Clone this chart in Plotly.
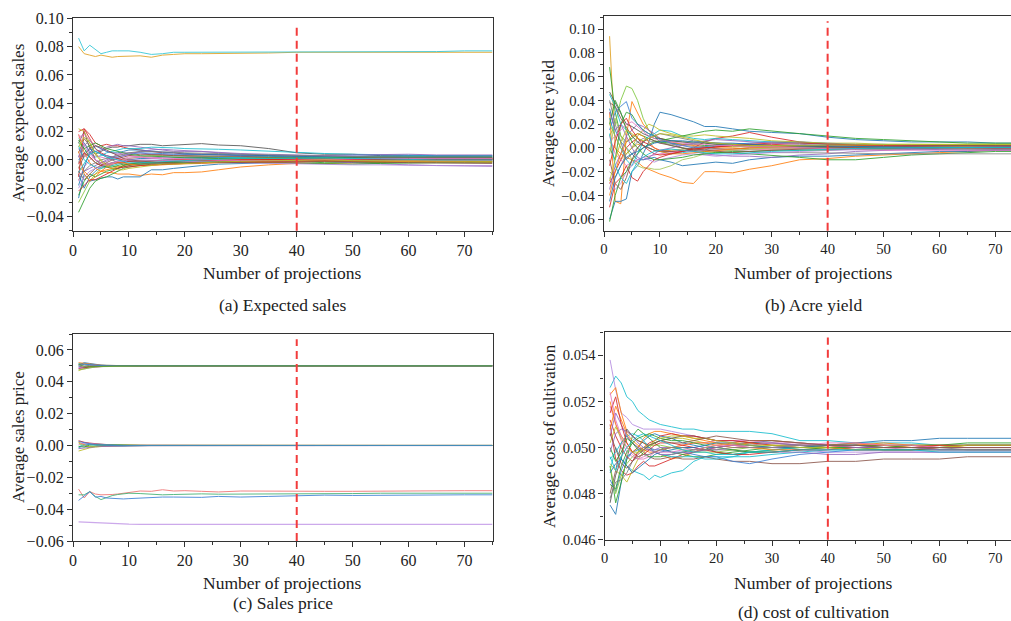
import plotly.graph_objects as go

# ---------------- data (sampled numbers of projections) ----------------
proj_x = [1, 2, 3, 4, 5, 6, 7, 8, 9, 10, 12, 14, 16, 18, 20, 23, 26, 30, 35, 40, 45, 50, 55, 60, 65, 70, 75]
SCALE = 0.001  # all series below are given in thousandths

# (a) Expected sales
a_top_cyan = [86, 77, 81, 78, 75, 76, 77, 77, 77, 77, 76, 74.5, 75, 76, 76, 76, 76, 76, 76, 76, 76, 76, 76, 76.5, 76.5, 77, 77]
a_top_gold = [80, 75, 74, 73, 74, 73, 72.5, 73, 73, 73.5, 73.5, 72.5, 74, 74.5, 75, 75, 75, 75, 75.5, 76, 76, 76, 76, 76, 76, 76, 76]
a_cluster = [
    [12, 20, 8, 4, 6, 8, 9, 9, 10, 10, 11, 11, 10, 10.5, 11, 11.5, 10.5, 10, 8, 5, 4, 4, 3, 3, 2.5, 3, 3],
    [-5, -8, -12, -10, -8, -9, -9, -10, -10, -10, -11, -10, -10.5, -9, -9, -8.5, -7, -5, -3.5, -2.5, -2.5, -2, -2, -1.5, -1.5, -1, -1],
    [-27, -10, -15, -14, -13, -12, -12, -13.5, -12, -12, -12, -7, -7, -6, -5, -4, -3, -2.5, -2, -1.5, -1, -1, -0.5, -0.5, 0, 0, 0],
    [-37, -28, -20, -15, -13, -12, -10, -8, -6, -5, -4, -3, -3, -2, -2, -1.5, -1.5, -1, -1, -1, -2, -2, -1.5, -1.5, -1, -1, -1],
    [20, 22, 18, 12, 10, 11, 10, 10, 9, 8, 7, 6, 5, 5, 4, 4, 3.5, 3, 3, 2.5, 2, 2, 2, 1.5, 1.5, 1.5, 1.5],
    [8, 2, 5, 6, 7, 9, 10, 11, 10, 10, 9, 8, 7, 6, 6, 6, 5, 4, 3, 1, -1, -2, -3, -3.5, -4, -4, -4.5],
    [22, 20, 12, 5, 0, -3, -4, -5, -5, -4, -3, -2, -2, -1, -1, -0.5, 0, 0, 0.5, 0.5, 0.5, 1, 1, 1, 1, 1, 1],
    [15, 12, 5, 2, 3, 5, 6, 7, 8, 8, 8, 9, 9, 8.5, 8, 8, 7.5, 7, 6, 5, 4.5, 4, 3.5, 3, 3, 3, 3],
    [-15, -5, 0, 3, 2, 1, 0, 0, 1, 2, 2.5, 3, 3, 3, 2.5, 2, 2, 2, 1.5, 1.5, 1, 1, 1, 0.5, 0.5, 0.5, 0.5],
    [5, 15, 10, 0, -3, -5, -6, -6, -5, -4, -3, -2, -2, -1.5, -1, -1, -0.5, -0.5, 0, 0, 0.5, 0.5, 0.5, 0.5, 0.5, 0.5, 0.5],
    [-10, -20, -12, -8, -5, -4, -3, -2, -1, 0, 1, 1, 2, 2, 2, 2, 2, 1.5, 1.5, 1, 1, 1.5, 1.5, 1.5, 1.5, 1.5, 1.5],
    [18, 5, -2, -6, -8, -7, -6, -5, -4, -3, -2, -1, 0, 0, 0.5, 1, 1, 1, 1, 0.5, 0.5, 0, 0, 0, 0, 0, 0],
    [-25, -15, -10, -12, -10, -8, -7, -6, -4, -3, -3, -2.5, -2, -2, -2, -1.5, -1, -1, -1, -0.5, -0.5, -0.5, -0.5, -0.5, 0, 0, 0],
    [-12, 22, 15, 8, 5, 3, 2, 1, 0, -1, -2, -2, -1.5, -1, -1, -1, -0.5, 0, 0, 0, 0.5, 0.5, 1, 1, 1, 1, 1],
    [3, -8, -6, -4, -2, 0, 2, 4, 5, 5, 5, 4, 4, 3.5, 3, 2.5, 2, 2, 1.5, 1, 0.5, 0, -0.5, -1, -1, -1.5, -1.5],
    [-2, 10, 14, 8, 4, 2, 0, -2, -3, -3, -3, -3, -2.5, -2.5, -2, -2, -1.5, -1, -1, -0.5, -0.5, 0, 0, 0, 0, 0, 0],
    [-30, -22, -15, -10, -6, -4, -2, -1, 0, 1, 2, 3, 3, 3, 3, 2.5, 2.5, 2, 2, 1.5, 1.5, 1, 1, 1, 1, 1, 1],
    [10, 0, -3, -5, -6, -5, -4, -3, -2, -1, -1, -0.5, 0, 0.5, 1, 1, 1.5, 2, 2.5, 2, 2, 2, 2, 2, 2, 2.5, 2.5],
    [16, 18, 14, 10, 8, 6, 5, 4, 4, 3, 2, 1, 1, 0.5, 0, 0, -0.5, -1, -1, -1, -1, -1, -0.5, -0.5, -0.5, -0.5, -0.5],
    [-8, -14, -10, -6, -4, -2, 0, 1, 2, 3, 4, 4, 3.5, 3, 3, 3, 2.5, 2.5, 2, 2, 2, 2, 2, 1.5, 1.5, 1.5, 1.5],
    [0, 5, 8, 6, 4, 3, 2, 2, 3, 4, 5, 5, 4.5, 4, 4, 4, 3.5, 3, 3, 3, 3, 3, 2.5, 2.5, 2.5, 2.5, 2.5],
    [12, 8, 2, -2, -4, -5, -5, -4, -3, -3, -2, -2, -1.5, -1.5, -1, -1, -1, -1.5, -2, -2.5, -3, -3, -2.5, -2, -2, -2, -2],
    [-3, 5, 2, -2, -4, -3, -2, -2, -2, -1, -1, -0.5, -0.5, 0, 0, 0, 0, 0, 0, 0.5, 0.5, 0.5, 0.5, 0.5, 0.5, 0.5, 0.5],
    [-20, -12, -8, -6, -5, -3, -2, -1, -1, 0, 0, 0, 0, -0.5, -1, -1, -1.5, -2, -2.5, -3, -3, -3.5, -3.5, -4, -4, -4, -4],
    [-18, -5, 5, 10, 8, 6, 5, 5, 6, 7, 7, 6, 5.5, 5, 4.5, 4, 4, 3.5, 3, 2.5, 2, 1.5, 1, 1, 0.5, 0.5, 0.5],
    [6, -10, -15, -12, -8, -5, -3, -2, -2, -3, -4, -4, -3.5, -3, -3, -2.5, -2, -2, -1.5, -1.5, -1, -1, -1, -1, -1.5, -1.5, -1.5],
    [14, 8, 10, 12, 10, 8, 7, 6, 5, 4, 3, 2.5, 2, 2, 1.5, 1.5, 1, 1, 1, 1, 1.5, 2, 2, 2.5, 2.5, 2, 2],
    [-22, -18, -14, -14, -12, -10, -8, -6, -5, -5, -4, -3.5, -3, -3, -2.5, -2, -2, -1.5, -1, -0.5, 0, 0, 0.5, 0.5, 0.5, 0.5, 0.5],
    [2, 12, 6, 0, -2, -1, 1, 2, 3, 4, 6, 7, 7.5, 7, 6.5, 6, 5, 4.5, 4, 3.5, 3, 3.5, 4, 4, 3.5, 3.5, 3.5],
    [-6, 3, 8, 10, 9, 7, 5, 3, 1, 0, -1, -1.5, -2, -2.5, -2.5, -2, -2, -2, -1.5, -1.5, -1, -1, -1.5, -2, -2, -2.5, -2.5],
    [18, 10, 4, 0, -2, -4, -3, -1, 0, 1, 2, 2, 1.5, 1, 1, 0.5, 0, -0.5, -0.5, 0, 0, 0.5, 1, 1, 1, 1, 1],
    [-14, -8, -4, -2, 0, 1, 2, 3, 4, 5, 6, 6, 6, 5.5, 5, 5, 4.5, 4, 3.5, 3, 2.5, 2, 2, 2, 2, 2, 2],
    [9, 16, 12, 4, -1, -4, -6, -7, -7, -6, -5, -4, -3, -3, -2.5, -2, -1.5, -1, -0.5, 0, 0, -0.5, -0.5, -1, -1, -1, -1],
    [-9, -2, 4, 6, 4, 2, 1, 0, -1, -2, -2, -1.5, -1, -0.5, -0.5, 0, 0.5, 1, 1, 1.5, 1.5, 1, 0.5, 0, 0, 0, 0],
]
a_colors = ["#555555", "#ff7f0e", "#1f77b4", "#2ca02c", "#d62728", "#9467bd", "#bcbd22", "#17becf",
            "#e377c2", "#8c564b", "#1f77b4", "#ff7f0e", "#2ca02c", "#d62728", "#9467bd", "#7f7f7f",
            "#8cc63f", "#17becf", "#e377c2", "#8c564b", "#3a7fd5", "#2ca02c", "#d62728", "#b48ae0",
            "#1f77b4", "#ff7f0e", "#2ca02c", "#d62728", "#9467bd", "#8c564b", "#e377c2", "#7f7f7f",
            "#bcbd22", "#17becf"]

# (b) Acre yield
b_lines = [
    [94, 0, -10, -5, 0, 3, 2, 0, -2, -3, -2, -1, 0, 0, 1, 1, 1, 0.5, 0.5, 0.5, 0, 0, 0, 0, 0, 0, 0],
    [68, 30, 10, 5, 8, 12, 10, 8, 6, 5, 4, 3, 3, 2, 2, 2, 1.5, 1, 1, 1, 1, 1.5, 1.5, 1.5, 1.5, 1.5, 1.5],
    [10, 20, 40, 52, 50, 40, 25, 15, 10, 8, 6, 5, 5, 4, 3, 3, 2, 2, 2, 2, 2, 2, 2, 2.5, 2.5, 3, 3],
    [30, -45, -47, 10, 39, 30, 20, 15, 10, 8, 5, 3, 2, 1, 0, 0, -1, -1, -1, -0.5, 0, 0, 0, 0.5, 0.5, 0.5, 0.5],
    [-60, -45, -45, -43, -20, -15, -5, 5, 20, 30, 28, 25, 22, 18, 18, 16, 14, 13, 12, 9, 7, 6, 5, 5, 5, 4, 4],
    [5, 0, -5, -8, -10, -12, -16, -18, -20, -22, -25, -29, -30, -20, -20, -21, -18, -15, -10, -9, -7, -6, -5, -4, -3, -2, -2],
    [33, 15, 5, 0, -5, -10, -10, -9, -8, -10, -12, -15, -14, -13, -12, -13, -10, -8, -7, -7, -6, -5, -4, -3, -3, -2, -2],
    [45, 35, 20, 15, 10, 5, 2, 0, -2, -3, -5, -4, -3, -2, 2, 3, 3, 2, 1, 1, 0.5, 1, 1, 1.5, 2, 2, 2],
    [-30, -20, -10, 0, 5, 8, 5, 3, 0, -2, -3, -3, 0, 5, 8, 10, 13, 9, 5, 3, 2, 1, 1, 0.5, 0.5, 0, 0],
    [-35, -15, -5, 10, 15, 20, 18, 15, 12, 8, 4, 0, -3, -5, -6, -7, -7, -8, -6, -5, -3, -2, -1, 0, 0.5, 1, 1],
    [47, 38, 30, 20, 18, 15, 12, 10, 8, 8, 6, 5, 4, 4, 3, 3, 2, 2, 1, 1, 0.5, 0, 0, -0.5, -0.5, -1, -1],
    [0, -10, 20, 30, 28, 20, 15, 12, 10, 5, 2, 0, -2, -3, -4, -4, -5, -6, -8, -10, -10, -8, -6, -5, -4, -3, -3],
    [-20, -25, -15, -5, 0, 5, 8, 6, 5, 4, 3, 2, 1, 0, -1, -2, -3, -4, -4, -4, -4.5, -5, -5, -5, -5, -5, -5],
    [38, 35, 25, 18, 10, 5, 2, 0, -2, -3, -3, -2, -2, -1, -1, -1, 0, 0, 0, 0, 0, 0, 0, 0, 0, 0, 0],
    [10, -5, -10, -15, -12, -10, -8, -7, -6, -5, -4, -3, -3, -2, -2, -2, -1.5, -1, -1, -1, -1, -0.5, -0.5, 0, 0, 0, 0],
    [-5, 25, 10, 0, -10, -15, -17, -17, -18, -18, -15, -10, -8, -5, -3, -2, -1, 0, 0, 0.5, 1, 1, 1, 1, 1, 1, 1],
    [25, 10, 0, -10, -15, -5, 5, 10, 12, 15, 14, 10, 8, 7, 8, 7, 6, 5, 4, 3, 3, 2.5, 2.5, 2, 2, 2, 2],
    [-50, -30, -25, -15, -25, -28, -20, -15, -10, -8, -5, -3, -1, 0, 1, 2, 3, 3, 2, 2, 1.5, 1, 0.5, 0, -0.5, -0.5, -0.5],
    [15, 30, 35, 39, 25, 20, 15, 12, 10, 7, 4, 2, 0, 1, 2, 3, 4, 5, 5, 4, 3, 3, 2, 2, 1.5, 1, 1],
    [-25, -35, -30, -20, -15, -10, -8, -10, -12, -10, -8, -6, -5, -6, -7, -6, -5, -4, -3, -2, -1.5, -1, -1, -0.5, -0.5, 0, 0],
    [20, 10, 0, -5, 0, 10, 15, 20, 18, 15, 12, 10, 10, 11, 10, 9, 8, 6, 5, 4, 4, 3, 3, 3, 2.5, 2.5, 2.5],
    [-62, -40, -25, -20, -10, -5, 0, 3, 5, 6, 8, 10, 12, 14, 15, 14, 16, 14, 12, 10, 8, 7, 6, 5, 4, 4, 4],
    [40, 20, 5, -10, -5, 0, 5, 8, 10, 12, 10, 8, 6, 5, 4, 3, 2, 2, 1, 0, 0, -1, -1, -1, -1, -1.5, -1.5],
    [-40, -20, -5, 5, 10, 12, 10, 5, 0, -3, -5, -5, -4, -3, -2, -1, 0, 1, 2, 2, 1.5, 1, 1, 0.5, 0, 0, 0],
    [20, 40, 30, 15, 5, 0, -5, -8, -10, -10, -9, -8, -6, -5, -4, -3, -3, -2, -2, -1.5, -1, -1, -0.5, 0, 0, 0.5, 0.5],
    [-15, 5, 20, 25, 15, 8, 2, -2, -5, -6, -5, -3, -1, 0, 1, 2, 3, 4, 4, 3, 2.5, 2, 2, 1.5, 1.5, 1.5, 1.5],
    [30, 15, 20, 10, 0, -8, -10, -8, -5, -2, 0, 2, 4, 6, 7, 6, 5, 4, 3, 2, 1, 0, -1, -1.5, -2, -2, -2],
    [-10, -30, -35, -25, -10, 0, 5, 8, 6, 4, 2, 0, -1, -2, -3, -4, -3, -2, -1, 0, 0.5, 1, 1.5, 2, 2, 2, 2],
    [5, 10, 15, 20, 22, 18, 14, 10, 8, 6, 5, 4, 3, 3, 2, 2, 1, 1, 0, -1, -1.5, -2, -2, -2, -2, -2, -2],
    [-45, -25, -15, -8, -5, -3, 0, 2, 4, 5, 6, 6, 5, 5, 4, 4, 3, 2, 2, 1.5, 1, 1, 0.5, 0.5, 0, 0, 0],
    [12, -15, -25, -30, -20, -12, -8, -5, -3, -2, -1, -2, -3, -4, -5, -5, -4, -3, -2, -1, -0.5, 0, 0, 0.5, 0.5, 0.5, 0.5],
    [-28, -10, 5, 15, 12, 8, 6, 8, 10, 12, 11, 9, 7, 5, 4, 3, 2, 2, 2, 2, 2.5, 3, 3, 3, 3, 3, 3],
]
b_colors = ["#e0a020", "#2ca02c", "#7cc83c", "#ff7f0e", "#1f77b4", "#ff7f0e", "#1f77b4", "#17becf",
            "#d62728", "#9467bd", "#555555", "#2ca02c", "#8a8a8a", "#8c564b", "#e377c2", "#a5c85a",
            "#17becf", "#d62728", "#3a7fd5", "#b48ae0", "#bcbd22", "#2ca02c",
            "#7f7f7f", "#ff7f0e", "#2ca02c", "#d62728", "#9467bd", "#8c564b", "#e377c2", "#1f77b4",
            "#17becf", "#bcbd22"]

# (c) Sales price
c_upper = [
    [47.0, 48.5, 49.5, 50.0, 50.0, 49.9, 49.9, 50.0, 50.0, 50.0, 50.0, 50.0, 50.0, 50.0, 50.0, 50.0, 50.0, 50.0, 50.0, 50.0, 50.0, 50.0, 50.0, 50.0, 50.0, 50.0, 50.0],
    [51.5, 51.0, 50.6, 50.4, 50.3, 50.2, 50.2, 50.1, 50.1, 50.1, 50.1, 50.0, 50.0, 50.0, 50.0, 50.0, 50.0, 50.0, 50.0, 50.0, 50.0, 50.0, 50.0, 50.0, 50.0, 50.0, 50.0],
    [48.2, 49.0, 49.4, 49.6, 49.7, 49.8, 49.8, 49.9, 49.9, 49.9, 49.9, 50.0, 50.0, 50.0, 50.0, 50.0, 50.0, 50.0, 50.0, 50.0, 50.0, 50.0, 50.0, 50.0, 50.0, 50.0, 50.0],
    [50.5, 52.0, 51.5, 50.8, 50.5, 50.3, 50.2, 50.1, 50.1, 50.0, 50.0, 50.0, 50.0, 50.0, 50.0, 50.0, 50.0, 50.0, 50.0, 50.0, 50.0, 50.0, 50.0, 50.0, 50.0, 50.0, 50.0],
    [49.0, 48.0, 48.8, 49.3, 49.5, 49.7, 49.8, 49.8, 49.9, 49.9, 50.0, 50.0, 50.0, 50.0, 50.0, 50.0, 50.0, 50.0, 50.0, 50.0, 50.0, 50.0, 50.0, 50.0, 50.0, 50.0, 50.0],
    [52.0, 51.5, 51.0, 50.6, 50.4, 50.3, 50.2, 50.2, 50.1, 50.1, 50.0, 50.0, 50.0, 50.0, 50.0, 50.0, 50.0, 50.0, 50.0, 50.0, 50.0, 50.0, 50.0, 50.0, 50.0, 50.0, 50.0],
    [48.5, 49.5, 50.5, 50.4, 50.2, 50.1, 50.0, 50.0, 50.0, 50.0, 50.0, 50.0, 50.0, 50.0, 50.0, 50.0, 50.0, 50.0, 50.0, 50.0, 50.0, 50.0, 50.0, 50.0, 50.0, 50.0, 50.0],
    [50.0, 49.0, 49.2, 49.5, 49.6, 49.7, 49.8, 49.9, 49.9, 49.9, 49.9, 50.0, 50.0, 50.0, 50.0, 50.0, 50.0, 50.0, 50.0, 50.0, 50.0, 50.0, 50.0, 50.0, 50.0, 50.0, 50.0],
    [51.0, 50.5, 50.2, 50.0, 49.9, 49.9, 50.0, 50.0, 50.0, 50.0, 50.0, 50.0, 50.0, 50.0, 50.0, 50.0, 50.0, 50.0, 50.0, 50.0, 50.0, 50.0, 50.0, 50.0, 50.0, 50.0, 50.0],
    [47.5, 48.2, 48.9, 49.3, 49.5, 49.6, 49.7, 49.8, 49.8, 49.9, 49.9, 49.9, 50.0, 50.0, 50.0, 50.0, 50.0, 50.0, 50.0, 50.0, 50.0, 50.0, 50.0, 50.0, 50.0, 50.0, 50.0],
    [49.5, 51.2, 50.8, 50.4, 50.2, 50.1, 50.1, 50.0, 50.0, 50.0, 50.0, 50.0, 50.0, 50.0, 50.0, 50.0, 50.0, 50.0, 50.0, 50.0, 50.0, 50.0, 50.0, 50.0, 50.0, 50.0, 50.0],
    [50.8, 49.8, 49.5, 49.7, 49.8, 49.9, 49.9, 50.0, 50.0, 50.0, 50.0, 50.0, 50.0, 50.0, 50.0, 50.0, 50.0, 50.0, 50.0, 50.0, 50.0, 50.0, 50.0, 50.0, 50.0, 50.0, 50.0],
]
c_zero = [
    [-3.5, -2.5, -1.5, -1.0, -0.6, -0.4, -0.3, -0.2, -0.2, -0.1, -0.1, 0.0, 0.0, 0.0, 0.0, 0.0, 0.0, 0.0, 0.0, 0.0, 0.0, 0.0, 0.0, 0.0, 0.0, 0.0, 0.0],
    [3.0, 2.0, 1.5, 1.0, 0.8, 0.6, 0.4, 0.3, 0.2, 0.2, 0.1, 0.1, 0.0, 0.0, 0.0, 0.0, 0.0, 0.0, 0.0, 0.0, 0.0, 0.0, 0.0, 0.0, 0.0, 0.0, 0.0],
    [-1.0, 1.0, 0.5, 0.0, -0.3, -0.4, -0.3, -0.2, -0.1, -0.1, 0.0, 0.0, 0.0, 0.0, 0.0, 0.0, 0.0, 0.0, 0.0, 0.0, 0.0, 0.0, 0.0, 0.0, 0.0, 0.0, 0.0],
    [2.0, 0.5, -0.8, -0.6, -0.4, -0.3, -0.2, -0.2, -0.1, -0.1, -0.1, 0.0, 0.0, 0.0, 0.0, 0.0, 0.0, 0.0, 0.0, 0.0, 0.0, 0.0, 0.0, 0.0, 0.0, 0.0, 0.0],
    [-2.0, -1.5, -1.0, -0.8, -0.6, -0.5, -0.4, -0.3, -0.3, -0.2, -0.2, -0.1, -0.1, -0.1, -0.1, -0.1, -0.1, -0.1, -0.2, -0.3, -0.2, -0.2, -0.2, -0.1, -0.1, -0.1, -0.1],
    [0.5, 1.5, 1.2, 0.8, 0.6, 0.5, 0.4, 0.3, 0.2, 0.2, 0.1, 0.1, 0.1, 0.0, 0.0, 0.0, 0.0, 0.0, 0.0, 0.0, 0.0, 0.0, 0.0, 0.0, 0.0, 0.0, 0.0],
    [1.5, -0.5, -0.8, -0.4, 0.0, 0.3, 0.5, 0.6, 0.4, 0.3, 0.2, 0.1, 0.1, 0.0, 0.0, 0.0, 0.0, 0.0, 0.0, 0.0, 0.0, 0.0, 0.0, 0.0, 0.0, 0.0, 0.0],
    [-0.5, -1.0, 0.2, 0.6, 0.4, 0.2, 0.1, 0.0, 0.0, 0.0, 0.0, 0.0, 0.0, 0.0, 0.0, 0.0, 0.0, 0.0, 0.0, 0.0, 0.0, 0.0, 0.0, 0.0, 0.0, 0.0, 0.0],
    [2.5, 1.8, 1.0, 0.4, 0.2, 0.0, -0.1, -0.2, -0.2, -0.1, -0.1, 0.0, 0.0, 0.0, 0.0, 0.0, 0.0, 0.0, 0.0, 0.0, 0.0, 0.0, 0.0, 0.0, 0.0, 0.0, 0.0],
    [-1.5, 0.0, 0.8, 1.0, 0.8, 0.5, 0.3, 0.2, 0.1, 0.0, 0.0, 0.0, 0.0, 0.0, 0.0, 0.0, 0.0, 0.0, 0.0, 0.0, 0.0, 0.0, 0.0, 0.0, 0.0, 0.0, 0.0],
]
c_red = [-27.4, -33.0, -29.0, -30.5, -31.0, -31.0, -30.8, -30.5, -30.0, -29.2, -28.6, -28.8, -27.8, -28.6, -28.4, -28.8, -29.2, -28.6, -28.8, -29.0, -28.8, -28.8, -28.6, -28.6, -28.6, -28.4, -28.4]
c_green = [-31.0, -31.0, -29.0, -32.0, -34.0, -32.5, -31.5, -30.8, -30.2, -30.0, -30.2, -30.6, -31.0, -30.8, -30.6, -30.4, -30.6, -30.6, -30.4, -30.4, -30.2, -30.2, -30.0, -30.0, -30.0, -30.0, -30.0]
c_blue = [-34.5, -32.0, -29.0, -32.5, -32.0, -33.0, -33.2, -33.8, -33.6, -33.4, -33.0, -32.6, -32.4, -32.4, -32.4, -32.6, -32.0, -32.4, -32.0, -31.4, -31.2, -31.4, -31.2, -31.2, -31.0, -31.0, -31.0]
c_purple = [-48.0, -48.0, -48.2, -48.4, -48.6, -48.8, -49.0, -49.2, -49.3, -49.4, -49.5, -49.5, -49.5, -49.5, -49.5, -49.5, -49.5, -49.5, -49.5, -49.5, -49.5, -49.5, -49.5, -49.5, -49.5, -49.5, -49.5]
c_upper_colors = ["#bcbd22", "#17becf", "#d62728", "#1f77b4", "#e377c2", "#ff7f0e", "#9467bd",
                  "#8c564b", "#7f7f7f", "#7cc83c", "#3a7fd5", "#5e9a2e"]
c_zero_colors = ["#bcbd22", "#d62728", "#17becf", "#ff7f0e", "#9467bd", "#e377c2", "#8cc63f",
                 "#2ca02c", "#3a7fd5", "#4a8fb8"]

# (d) cost of cultivation
d_lines = [
    [52.6, 53.1, 52.8, 52.2, 52.0, 51.6, 51.4, 51.2, 51.1, 51.0, 50.9, 50.8, 50.8, 50.7, 50.7, 50.7, 50.7, 50.6, 50.3, 50.3, 50.2, 50.2, 50.2, 50.1, 50.1, 50.1, 50.1],
    [53.8, 52.5, 51.5, 51.3, 51.0, 50.9, 50.8, 50.8, 50.8, 50.8, 50.7, 50.6, 50.5, 50.4, 50.3, 50.2, 50.1, 50.0, 49.9, 49.8, 49.8, 49.8, 49.8, 49.8, 49.8, 49.8, 49.8],
    [47.5, 47.1, 48.5, 49.5, 49.8, 50.0, 50.3, 50.5, 50.6, 50.5, 50.4, 50.2, 50.1, 50.0, 50.0, 50.1, 50.2, 50.3, 50.2, 50.1, 50.2, 50.3, 50.3, 50.4, 50.4, 50.4, 50.4],
    [52.3, 52.6, 51.5, 50.7, 50.5, 50.3, 50.2, 50.0, 49.8, 49.7, 49.5, 49.6, 49.8, 50.0, 50.1, 50.2, 50.3, 50.3, 50.2, 50.1, 50.1, 50.1, 50.0, 50.0, 50.0, 50.0, 50.0],
    [49.0, 50.0, 49.5, 49.2, 49.0, 48.9, 48.8, 48.6, 48.8, 48.7, 48.9, 49.0, 49.4, 49.6, 49.6, 49.6, 49.6, 49.7, 49.8, 49.9, 49.9, 49.9, 49.9, 50.0, 50.0, 50.0, 50.0],
    [48.0, 49.0, 50.2, 50.5, 50.2, 50.0, 49.8, 49.6, 49.5, 49.5, 49.6, 49.5, 49.5, 49.6, 49.5, 49.4, 49.4, 49.3, 49.3, 49.4, 49.4, 49.5, 49.5, 49.5, 49.6, 49.6, 49.6],
    [51.0, 49.5, 49.0, 48.8, 48.9, 49.2, 49.4, 49.2, 49.2, 49.3, 49.5, 49.7, 49.8, 49.9, 50.0, 50.1, 50.0, 50.0, 50.0, 50.0, 50.1, 50.1, 50.1, 50.0, 50.0, 50.0, 50.0],
    [49.2, 47.6, 48.5, 49.5, 50.5, 50.8, 50.6, 50.4, 50.2, 50.0, 49.8, 49.7, 49.6, 49.6, 49.7, 49.8, 49.9, 50.0, 50.1, 50.1, 50.1, 50.1, 50.1, 50.1, 50.1, 50.1, 50.1],
    [49.3, 49.0, 48.8, 48.5, 49.0, 49.5, 49.8, 50.0, 50.2, 50.3, 50.4, 50.4, 50.3, 50.2, 50.2, 50.1, 50.1, 50.0, 50.0, 50.0, 49.9, 49.9, 49.9, 50.0, 50.0, 50.0, 50.0],
    [47.6, 48.8, 49.5, 50.8, 50.5, 50.3, 50.2, 50.1, 50.2, 50.3, 50.4, 50.5, 50.5, 50.4, 50.3, 50.3, 50.2, 50.2, 50.1, 50.0, 50.0, 50.0, 50.0, 50.0, 50.0, 50.0, 50.0],
    [51.8, 51.0, 50.3, 49.8, 49.6, 49.5, 49.5, 49.6, 49.8, 49.9, 50.0, 50.1, 50.2, 50.2, 50.3, 50.3, 50.3, 50.2, 50.2, 50.1, 50.0, 50.0, 49.9, 49.9, 49.9, 49.9, 49.9],
    [48.6, 48.1, 49.0, 49.6, 49.8, 49.9, 50.0, 50.0, 49.9, 49.9, 49.8, 49.8, 49.7, 49.6, 49.6, 49.4, 49.3, 49.5, 49.7, 49.8, 49.9, 49.9, 49.9, 49.9, 49.9, 49.9, 49.9],
    [52.0, 51.0, 50.5, 50.2, 49.8, 50.0, 50.4, 50.6, 50.7, 50.7, 50.6, 50.5, 50.4, 50.3, 50.2, 50.1, 50.2, 50.1, 50.0, 50.1, 50.2, 50.1, 50.0, 50.0, 50.1, 50.1, 50.1],
    [51.2, 50.5, 50.0, 49.6, 49.4, 49.8, 50.0, 50.2, 50.3, 50.5, 50.6, 50.5, 50.5, 50.4, 50.3, 50.3, 50.2, 50.1, 50.1, 50.0, 49.9, 49.9, 49.9, 50.0, 50.0, 50.0, 50.0],
    [50.5, 51.5, 51.0, 50.5, 50.2, 50.0, 49.9, 49.9, 49.9, 50.0, 50.0, 50.0, 50.0, 49.9, 49.9, 49.9, 49.8, 49.8, 49.8, 49.7, 49.7, 49.8, 49.8, 49.8, 49.8, 49.8, 49.8],
    [50.0, 49.4, 49.8, 50.4, 50.2, 49.9, 49.7, 49.6, 49.6, 49.6, 49.7, 49.8, 49.9, 50.0, 49.8, 49.7, 49.8, 49.9, 50.0, 50.0, 50.0, 50.0, 50.1, 50.1, 50.2, 50.2, 50.2],
    [49.5, 49.8, 50.2, 50.5, 50.6, 50.5, 50.3, 50.0, 49.8, 49.7, 49.6, 49.6, 49.6, 49.5, 49.5, 49.6, 49.8, 49.9, 50.0, 50.0, 50.0, 50.0, 50.0, 50.0, 50.1, 50.1, 50.1],
    [49.2, 48.0, 48.8, 49.3, 49.6, 49.8, 50.0, 50.1, 50.1, 50.1, 50.0, 49.9, 49.8, 49.8, 49.8, 49.9, 50.0, 50.1, 50.1, 50.0, 50.0, 50.0, 50.0, 50.0, 50.0, 50.0, 50.0],
    [50.8, 51.8, 51.2, 50.6, 50.3, 50.1, 49.9, 49.8, 49.8, 49.9, 50.0, 50.1, 50.2, 50.2, 50.1, 50.0, 50.0, 49.9, 49.9, 50.0, 50.1, 50.2, 50.1, 50.1, 50.0, 50.0, 50.0],
    [48.4, 48.2, 49.2, 49.8, 50.2, 50.4, 50.5, 50.6, 50.5, 50.4, 50.3, 50.3, 50.2, 50.1, 50.0, 49.9, 49.8, 49.8, 49.9, 50.0, 50.0, 49.9, 49.9, 49.9, 49.9, 49.9, 49.9],
    [51.5, 52.2, 51.0, 50.2, 49.8, 49.6, 49.7, 49.9, 50.1, 50.2, 50.2, 50.1, 50.0, 49.9, 49.8, 49.7, 49.7, 49.8, 49.9, 49.9, 50.0, 50.0, 50.0, 50.1, 50.1, 50.1, 50.1],
    [49.8, 50.6, 50.8, 50.7, 50.5, 50.2, 50.0, 49.9, 49.8, 49.7, 49.7, 49.8, 49.8, 49.9, 50.0, 50.1, 50.1, 50.2, 50.1, 50.1, 50.0, 50.0, 50.0, 49.9, 49.9, 49.9, 49.9],
    [48.9, 49.3, 49.5, 49.2, 48.9, 49.1, 49.3, 49.5, 49.7, 49.8, 49.9, 50.0, 50.0, 50.1, 50.2, 50.2, 50.1, 50.0, 50.0, 50.1, 50.1, 50.0, 50.0, 50.0, 50.0, 50.0, 50.0],
    [50.2, 50.9, 50.4, 50.0, 49.8, 49.8, 49.9, 50.1, 50.3, 50.4, 50.5, 50.5, 50.4, 50.4, 50.3, 50.2, 50.1, 50.1, 50.0, 50.0, 49.9, 50.0, 50.0, 50.0, 50.1, 50.1, 50.1],
    [52.4, 51.2, 50.5, 50.0, 49.7, 49.5, 49.6, 49.7, 49.8, 49.8, 49.8, 49.9, 49.9, 50.0, 50.1, 50.1, 50.0, 50.0, 50.1, 50.2, 50.2, 50.1, 50.1, 50.0, 50.0, 50.0, 50.0],
    [47.8, 48.5, 48.6, 48.9, 49.4, 49.6, 49.7, 49.7, 49.8, 49.9, 50.0, 50.0, 49.9, 49.9, 49.9, 50.0, 50.0, 50.0, 50.1, 50.1, 50.1, 50.0, 50.0, 50.0, 49.9, 49.9, 49.9],
    [50.6, 49.9, 49.3, 49.1, 49.4, 49.7, 49.9, 50.1, 50.2, 50.3, 50.2, 50.2, 50.3, 50.4, 50.5, 50.4, 50.3, 50.3, 50.2, 50.1, 50.1, 50.0, 50.0, 50.0, 50.0, 50.0, 50.0],
    [49.6, 49.0, 49.6, 50.0, 50.3, 50.5, 50.6, 50.5, 50.4, 50.3, 50.1, 49.9, 49.8, 49.8, 49.7, 49.7, 49.8, 49.8, 49.9, 49.9, 49.9, 49.9, 49.9, 49.8, 49.8, 49.8, 49.8],
]
d_colors = ["#17becf", "#b48ae0", "#1f77b4", "#ff7f0e", "#17becf", "#8c564b", "#d62728", "#2ca02c",
            "#bcbd22", "#555555", "#e377c2", "#3a7fd5", "#ff7f0e", "#d62728", "#9467bd", "#2ca02c",
            "#17becf", "#8cc63f",
            "#ff7f0e", "#2ca02c", "#d62728", "#9467bd", "#1f77b4", "#bcbd22", "#e377c2", "#7f7f7f",
            "#8c564b", "#17becf"]

# ---------------- figure ----------------
W, H = 1011, 621
FONT = "Liberation Serif"
AX = "#333333"
TXT = "#222222"


def px_x(v):
    return v / W


def px_y(v):
    return 1 - v / H


fig = go.Figure()


def add(series, color, xa, ya, width=1.0, opacity=0.85):
    fig.add_trace(go.Scatter(
        x=proj_x, y=[v * SCALE for v in series], mode="lines",
        line=dict(color=color, width=width), opacity=opacity,
        xaxis=xa, yaxis=ya, showlegend=False, hoverinfo="skip"))


# panel a
for s, c in zip(a_cluster, a_colors):
    add(s, c, "x", "y")
add(a_top_gold, "#e0a020", "x", "y")
add(a_top_cyan, "#2fc6d6", "x", "y")
# panel b
for s, c in zip(b_lines, b_colors):
    add(s, c, "x2", "y2")
# panel c
for s, c in zip(c_upper, c_upper_colors):
    add(s, c, "x3", "y3")
for s, c in zip(c_zero, c_zero_colors):
    add(s, c, "x3", "y3")
add(c_red, "#f07070", "x3", "y3")
add(c_green, "#40b070", "x3", "y3")
add(c_blue, "#3a7fd5", "x3", "y3")
add(c_purple, "#c49be8", "x3", "y3", width=1.3)
# panel d
for s, c in zip(d_lines, d_colors):
    add(s, c, "x4", "y4")

panels = {
    # name: (xdom px, ydom px (top, bottom), xrange, yrange, dtick, minor, fmt, right frame, tick font)
    "1": ((73, 492.5), (18.3, 230.7), [0, 75], [-0.05, 0.10], 0.02, 0.01, ".2f", True, 16),
    "2": ((604, 1011), (16, 230.7), [0, 72.8], [-0.0697, 0.111], 0.02, 0.01, ".2f", False, 14.7),
    "3": ((73, 492.5), (334, 541), [0, 75], [-0.06, 0.07], 0.02, 0.01, ".2f", True, 16),
    "4": ((604.5, 1011), (332.3, 539.7), [0, 72.8], [0.046, 0.055], 0.002, 0.001, ".3f", False, 14.5),
}

layout = dict(
    template="none",
    width=W, height=H, margin=dict(l=0, r=0, t=0, b=0, pad=0, autoexpand=False),
    paper_bgcolor="white", plot_bgcolor="white", showlegend=False,
    font=dict(family=FONT, size=14, color=TXT),
)
for k, (xd, yd, xr, yr, dt, mn, fmt, mir, tfs) in panels.items():
    sfx = "" if k == "1" else k
    layout["xaxis" + sfx] = dict(
        domain=[px_x(xd[0]), px_x(xd[1])], range=xr, anchor="y" + sfx, automargin=False,
        showline=True, linecolor=AX, linewidth=1.3, mirror=True,
        ticks="outside", ticklen=5, tickwidth=1.2, tickcolor=AX,
        dtick=10, tick0=0, showgrid=False, zeroline=False,
        minor=dict(ticks="outside", ticklen=3, dtick=5, tick0=0, tickcolor=AX, showgrid=False),
        tickfont=dict(family=FONT, size=tfs, color=TXT),
    )
    layout["yaxis" + sfx] = dict(
        domain=[px_y(yd[1]), px_y(yd[0])], range=yr, anchor="x" + sfx, automargin=False,
        showline=True, linecolor=AX, linewidth=1.3, mirror=mir,
        ticks="outside", ticklen=5, tickwidth=1.2, tickcolor=AX,
        dtick=dt, tick0=0, tickformat=fmt, showgrid=False, zeroline=False,
        minor=dict(ticks="outside", ticklen=3, dtick=mn, tick0=0, tickcolor=AX, showgrid=False),
        tickfont=dict(family=FONT, size=tfs, color=TXT),
    )

fig.update_layout(**layout)

# red dashed reference line at 40 projections
for k in ["", "2", "3", "4"]:
    fig.add_shape(type="line", xref="x" + k, yref="y" + k + " domain",
                  x0=40, x1=40, y0=0, y1=0.975,
                  line=dict(color="#f23c3c", width=2, dash="8px,5px"), layer="above")

# texts
texts = [
    ("Number of projections", 282.5, 273, 0, 17.5),
    ("(a) Expected sales", 282.5, 305, 0, 17.5),
    ("Number of projections", 813, 273, 0, 17.5),
    ("(b) Acre yield", 813, 305, 0, 17.5),
    ("Number of projections", 282.5, 583, 0, 17.5),
    ("(c) Sales price", 282.5, 603, 0, 17.5),
    ("Number of projections", 813, 583, 0, 17.5),
    ("(d) cost of cultivation", 813, 612, 0, 17.5),
    ("Average expected sales", 18, 123, -90, 17),
    ("Average acre yield", 548, 123, -90, 17),
    ("Average sales price", 18, 437, -90, 17),
    ("Average cost of cultivation", 549, 436, -90, 17),
]
for t, x, y, ang, fs in texts:
    fig.add_annotation(text=t, x=px_x(x), y=px_y(y), xref="paper", yref="paper",
                       showarrow=False, textangle=ang, xanchor="center", yanchor="middle",
                       font=dict(family=FONT, size=fs, color=TXT))

fig.write_html(
    "out.html",
    config={"displayModeBar": False},
    post_script="document.body.style.margin='0';document.documentElement.style.overflow='hidden';",
)
